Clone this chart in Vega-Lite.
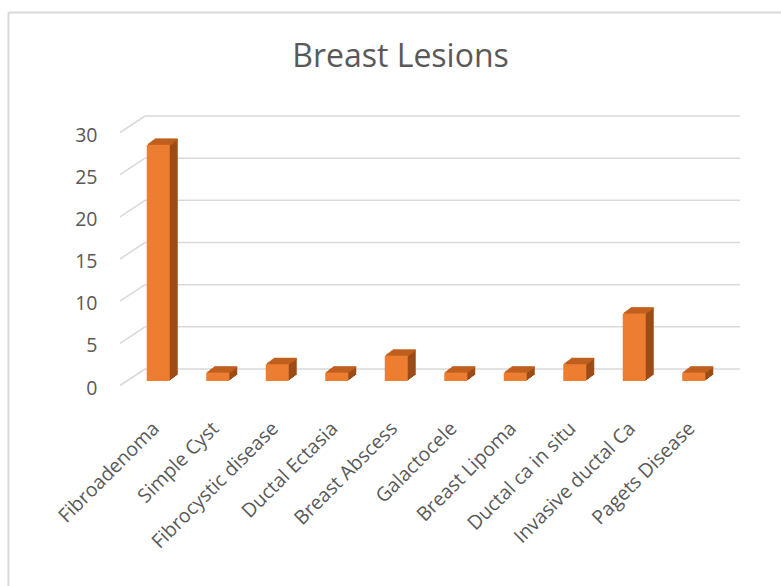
{
  "$schema": "https://vega.github.io/schema/vega-lite/v6.json",
  "autosize": {"type": "none"},
  "padding": {"left": 8, "top": 12, "right": 0, "bottom": 0},
  "width": 773,
  "height": 574,
  "background": "white",
  "title": {
    "text": "Breast Lesions",
    "font": "Open Sans",
    "fontSize": 32,
    "fontWeight": "normal",
    "color": "#595959",
    "anchor": "middle",
    "frame": "group",
    "baseline": "alphabetic",
    "offset": 0,
    "dx": 6,
    "dy": 87
  },
  "datasets": {
    "lesions": [
      {"lesion": "Fibroadenoma", "v": 28},
      {"lesion": "Simple Cyst", "v": 1},
      {"lesion": "Fibrocystic disease", "v": 2},
      {"lesion": "Ductal Ectasia", "v": 1},
      {"lesion": "Breast Abscess", "v": 3},
      {"lesion": "Galactocele", "v": 1},
      {"lesion": "Breast Lipoma", "v": 1},
      {"lesion": "Ductal ca in situ", "v": 2},
      {"lesion": "Invasive ductal Ca", "v": 8},
      {"lesion": "Pagets Disease", "v": 1}
    ],
    "gridValues": [
      {"v": 0}, {"v": 5}, {"v": 10}, {"v": 15}, {"v": 20}, {"v": 25}, {"v": 30}
    ]
  },
  "layer": [
    {
      "encoding": {
        "y": {
          "field": "v",
          "type": "quantitative",
          "scale": {"domain": [0, 30], "range": [357, 104], "nice": false, "zero": true},
          "axis": {
            "orient": "left",
            "offset": -89,
            "values": [0, 5, 10, 15, 20, 25, 30],
            "grid": false,
            "domain": false,
            "ticks": false,
            "tickSize": 0,
            "labelPadding": 0,
            "labelOffset": 19,
            "labelFont": "Open Sans",
            "labelFontSize": 19.5,
            "labelColor": "#595959",
            "title": null
          }
        }
      },
      "layer": [
        {
          "data": {"name": "gridValues"},
          "encoding": {
            "x": {"datum": 0, "type": "quantitative", "scale": {"domain": [0, 1], "range": [137, 732]}, "axis": null},
            "y2": {"field": "v"}
          },
          "layer": [
            {
              "mark": {"type": "rule", "color": "#D9D9D9", "strokeWidth": 1.5},
              "encoding": {"x2": {"datum": 1}}
            },
            {
              "mark": {"type": "rule", "color": "#D9D9D9", "strokeWidth": 1.5, "xOffset": -25, "yOffset": 16.5},
              "encoding": {"x2": {"datum": 0}}
            }
          ]
        },
        {
          "data": {"name": "lesions"},
          "encoding": {
            "x": {
              "field": "lesion",
              "type": "nominal",
              "sort": null,
              "scale": {"range": [137, 732], "paddingInner": 0, "paddingOuter": 0},
              "axis": {
                "orient": "bottom",
                "offset": -161,
                "labelAngle": -45,
                "labelAlign": "right",
                "labelBaseline": "middle",
                "labelOffset": -18.5,
                "labelPadding": 0,
                "ticks": false,
                "tickSize": 0,
                "domain": false,
                "labelFont": "Open Sans",
                "labelFontSize": 19.5,
                "labelColor": "#595959",
                "labelOverlap": false,
                "labelLimit": 0,
                "title": null
              }
            }
          },
          "layer": [
            {"mark": {"type": "bar", "size": 23, "color": "#9C4C17", "xOffset": -8.5, "x2Offset": -8.5, "yOffset": 6, "y2Offset": 6}},
            {"mark": {"type": "bar", "size": 23, "color": "#9C4C17", "xOffset": -9.8, "x2Offset": -9.8, "yOffset": 7, "y2Offset": 7}},
            {"mark": {"type": "bar", "size": 23, "color": "#9C4C17", "xOffset": -11.2, "x2Offset": -11.2, "yOffset": 8, "y2Offset": 8}},
            {"mark": {"type": "bar", "size": 23, "color": "#9C4C17", "xOffset": -12.5, "x2Offset": -12.5, "yOffset": 9, "y2Offset": 9}},
            {"mark": {"type": "bar", "size": 23, "color": "#9C4C17", "xOffset": -13.8, "x2Offset": -13.8, "yOffset": 10, "y2Offset": 10}},
            {"mark": {"type": "bar", "size": 23, "color": "#9C4C17", "xOffset": -15.2, "x2Offset": -15.2, "yOffset": 11, "y2Offset": 11}},
            {"mark": {"type": "tick", "size": 23, "thickness": 2, "color": "#C4621F", "xOffset": -8.5, "yOffset": 6.5}},
            {"mark": {"type": "tick", "size": 23, "thickness": 2, "color": "#C4621F", "xOffset": -9.8, "yOffset": 7.5}},
            {"mark": {"type": "tick", "size": 23, "thickness": 2, "color": "#C4621F", "xOffset": -11.2, "yOffset": 8.5}},
            {"mark": {"type": "tick", "size": 23, "thickness": 2, "color": "#C4621F", "xOffset": -12.5, "yOffset": 9.5}},
            {"mark": {"type": "tick", "size": 23, "thickness": 2, "color": "#C4621F", "xOffset": -13.8, "yOffset": 10.5}},
            {"mark": {"type": "tick", "size": 23, "thickness": 2, "color": "#C4621F", "xOffset": -15.2, "yOffset": 11.5}},
            {"mark": {"type": "bar", "size": 23, "color": "#ED7D31", "xOffset": -16.5, "x2Offset": -16.5, "yOffset": 12, "y2Offset": 12}}
          ]
        }
      ],
      "resolve": {"scale": {"x": "independent"}}
    },
    {
      "data": {"values": [{}]},
      "mark": {"type": "point", "opacity": 0},
      "encoding": {
        "x": {
          "datum": 0,
          "type": "quantitative",
          "scale": {"domain": [0, 1], "range": [0, 773]},
          "axis": {"orient": "top", "domainColor": "#D9D9D9", "domainWidth": 2, "labels": false, "ticks": false, "grid": false, "title": null}
        },
        "y": {
          "datum": 0,
          "type": "quantitative",
          "scale": {"domain": [0, 1], "range": [574, 0]},
          "axis": {"orient": "left", "domainColor": "#D9D9D9", "domainWidth": 2, "labels": false, "ticks": false, "grid": false, "title": null}
        }
      }
    }
  ],
  "resolve": {"scale": {"x": "independent", "y": "independent"}},
  "config": {
    "view": {"stroke": null},
    "font": "Open Sans"
  }
}
